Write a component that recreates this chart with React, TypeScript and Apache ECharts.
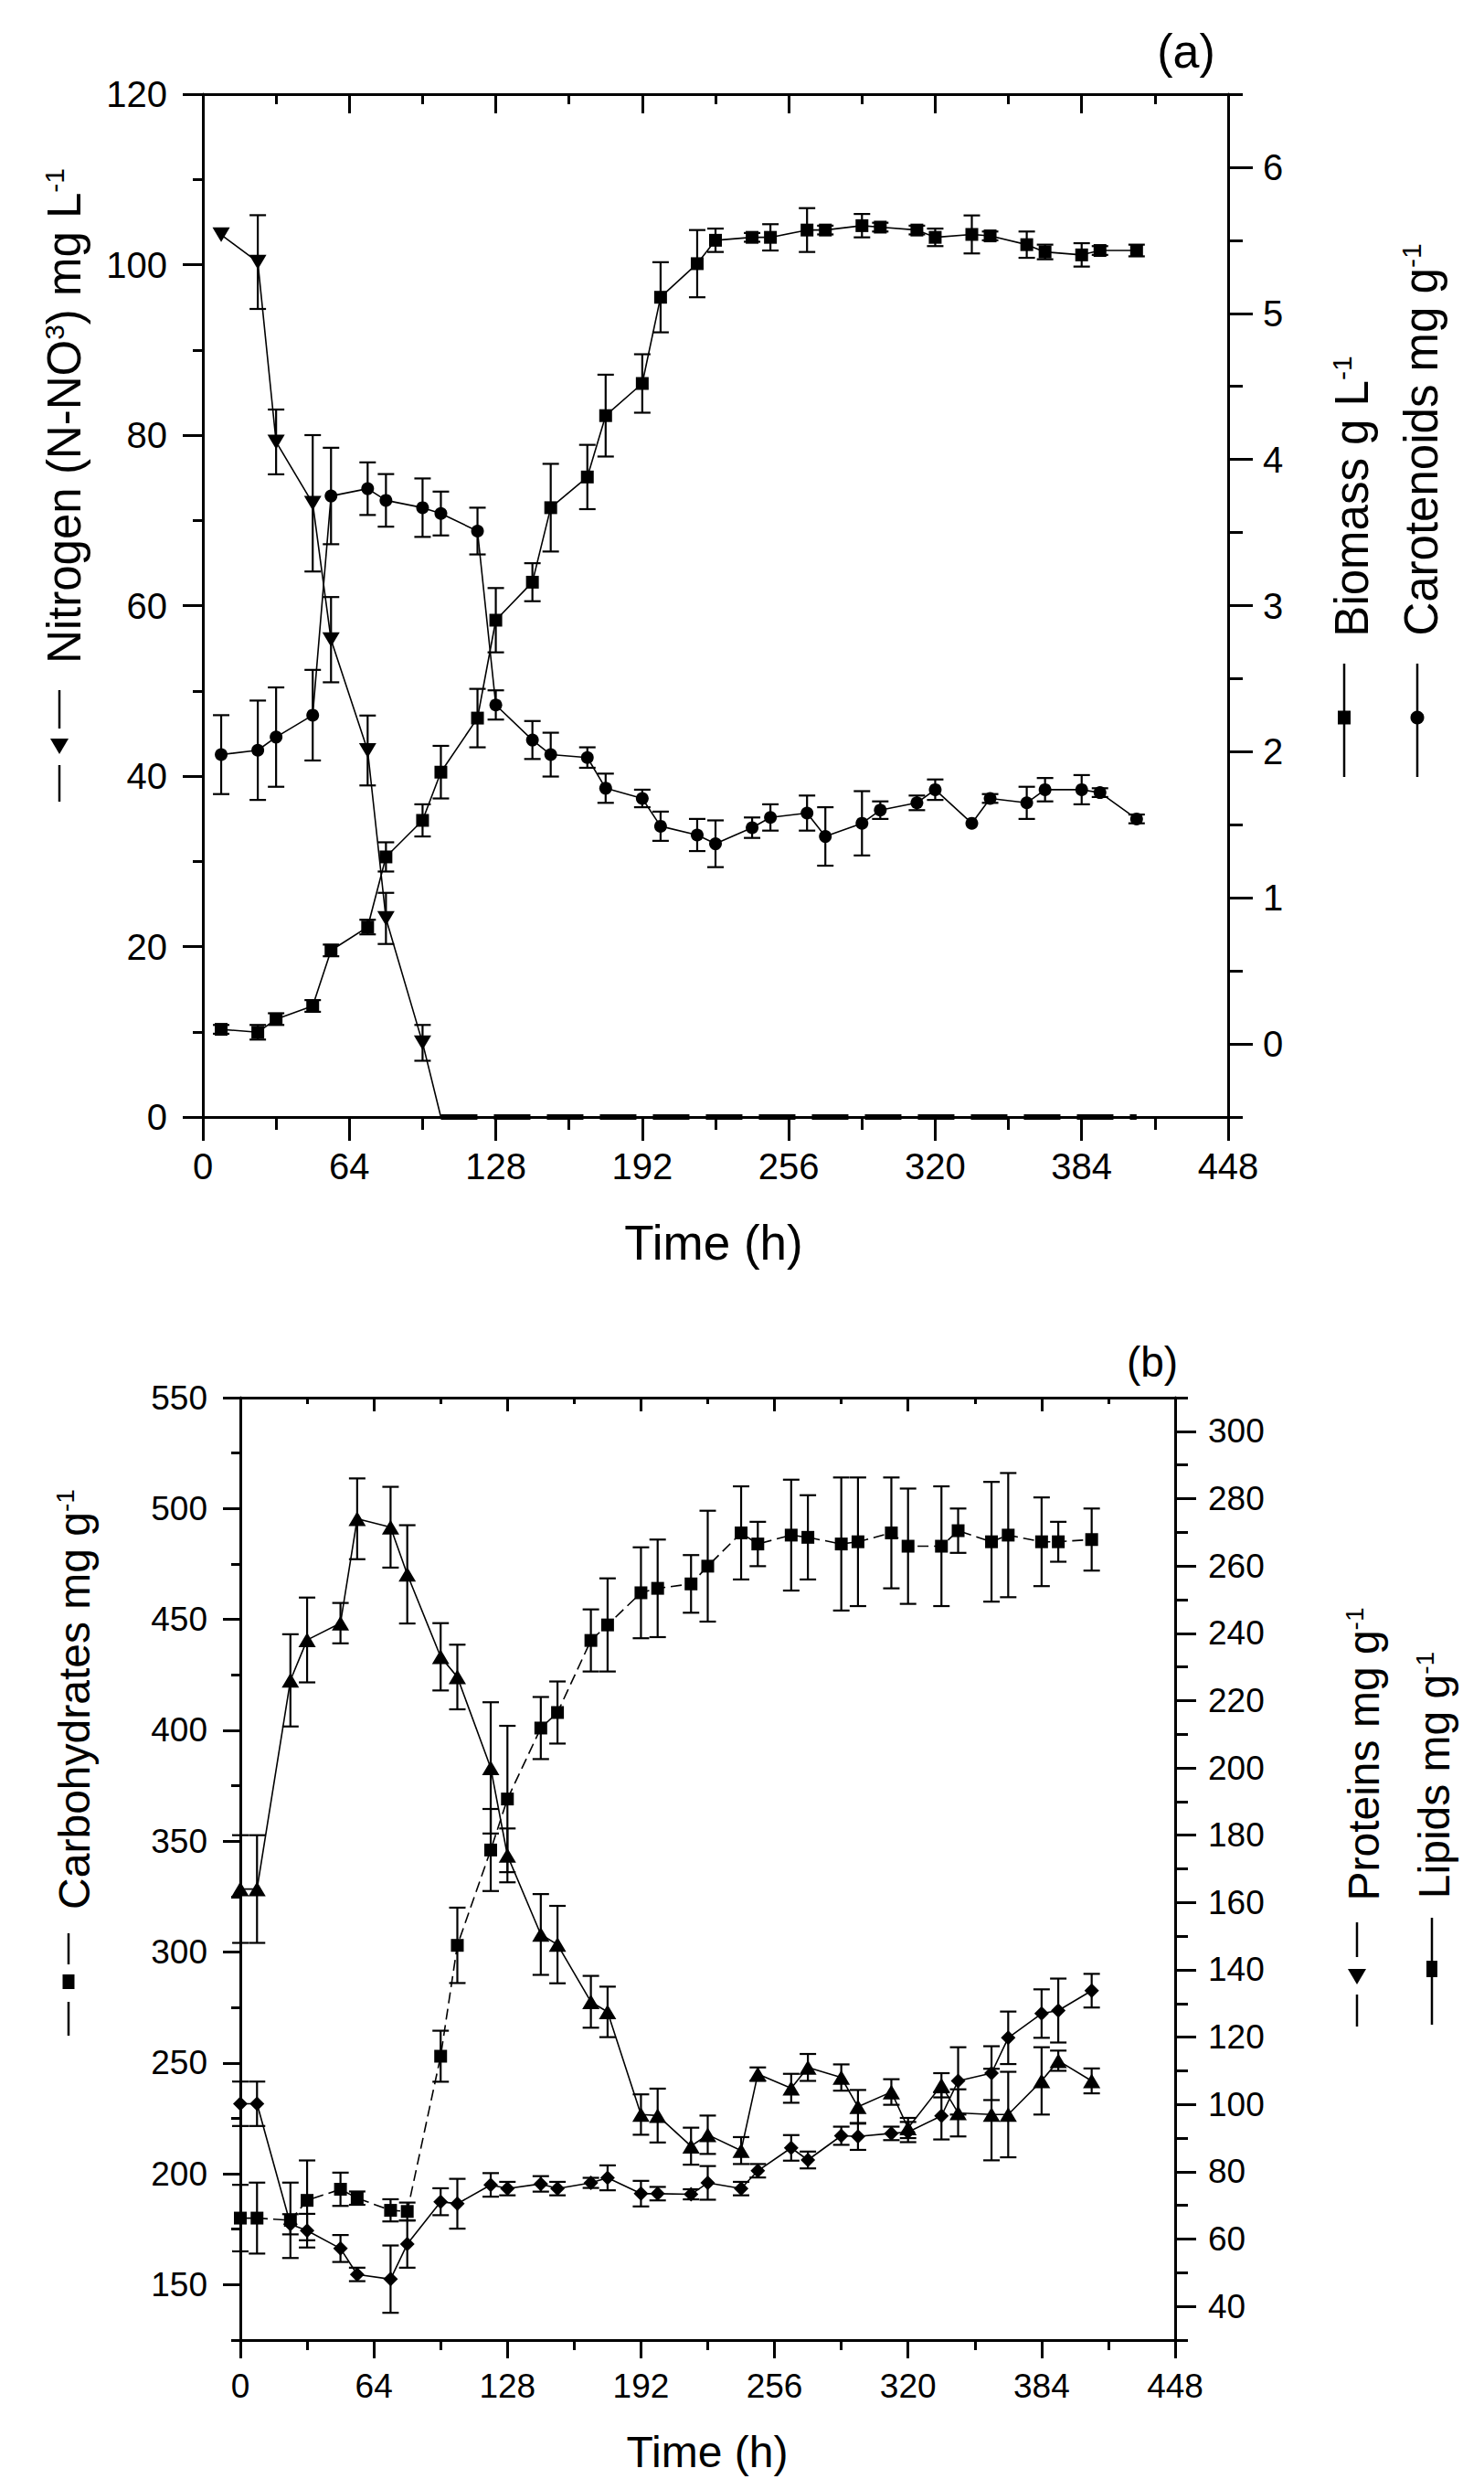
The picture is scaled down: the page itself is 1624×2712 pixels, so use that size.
import React, { useEffect, useRef } from 'react';
import * as echarts from 'echarts';

// ---------- Panel (a) data ----------
const timeA = [8, 24, 32, 48, 56, 72, 80, 96, 104, 120, 128, 144, 152, 168, 176, 192, 200, 216, 224, 240, 248, 264, 272, 288, 296, 312, 320, 336, 344, 360, 368, 384, 392, 408];
const nitrogen = [103.5, 100.3, 79.2, 72, 56, 43, 23.3, 8.7, 0, 0, 0, 0, 0, 0, 0, 0, 0, 0, 0, 0, 0, 0, 0, 0, 0, 0, 0, 0, 0, 0, 0, 0, 0, 0];
const nitrogenErr = [0, 5.5, 3.8, 8, 5, 4.1, 3, 2.1, 0, 0, 0, 0, 0, 0, 0, 0, 0, 0, 0, 0, 0, 0, 0, 0, 0, 0, 0, 0, 0, 0, 0, 0, 0, 0];
const biomass = [0.10, 0.08, 0.17, 0.26, 0.64, 0.80, 1.28, 1.53, 1.86, 2.23, 2.90, 3.16, 3.67, 3.88, 4.30, 4.52, 5.11, 5.34, 5.50, 5.52, 5.52, 5.57, 5.57, 5.60, 5.59, 5.57, 5.52, 5.54, 5.53, 5.47, 5.42, 5.40, 5.43, 5.43];
const biomassErr = [0.03, 0.05, 0.04, 0.04, 0.04, 0.05, 0.10, 0.11, 0.18, 0.20, 0.22, 0.13, 0.30, 0.22, 0.28, 0.20, 0.24, 0.23, 0.08, 0.03, 0.09, 0.15, 0.03, 0.08, 0.03, 0.03, 0.06, 0.13, 0.03, 0.09, 0.05, 0.08, 0.03, 0.04];
const carotenoids = [1.98, 2.01, 2.10, 2.25, 3.75, 3.80, 3.72, 3.67, 3.63, 3.51, 2.32, 2.08, 1.98, 1.96, 1.75, 1.68, 1.49, 1.43, 1.37, 1.48, 1.55, 1.58, 1.42, 1.51, 1.60, 1.65, 1.74, 1.51, 1.68, 1.65, 1.74, 1.74, 1.72, 1.54];
const carotenoidsErr = [0.27, 0.34, 0.34, 0.31, 0.33, 0.18, 0.18, 0.20, 0.15, 0.16, 0.10, 0.13, 0.15, 0.07, 0.10, 0.06, 0.10, 0.11, 0.16, 0.07, 0.09, 0.12, 0.20, 0.22, 0.06, 0.05, 0.07, 0, 0.03, 0.11, 0.08, 0.10, 0.03, 0.03];

// ---------- Panel (b) data ----------
const timeB = [0, 8, 24, 32, 48, 56, 72, 80, 96, 104, 120, 128, 144, 152, 168, 176, 192, 200, 216, 224, 240, 248, 264, 272, 288, 296, 312, 320, 336, 344, 360, 368, 384, 392, 408];
const carbohydrates = [180, 180, 179, 188, 193, 189, 183.5, 183, 253, 303, 346, 369, 401, 408, 440.5, 447.5, 462, 464, 466, 474, 489, 484, 488, 487, 484, 485, 489, 483, 483, 490, 485, 488, 485, 485, 486];
const carbohydratesErr = [15, 16, 17, 18, 7.5, 3, 5, 4, 11.5, 17, 18.5, 33, 14, 14, 14, 21, 20.5, 22, 13, 25, 21, 10, 25, 19, 30, 29, 25, 26, 27, 10, 27, 28, 20, 9, 14];
const proteins = [164, 164, 226, 238, 243, 274, 271.5, 257.5, 233, 227, 200, 174, 150.5, 147.5, 130.5, 127.5, 97, 96.7, 87.6, 91, 86.3, 109, 104.8, 111, 108, 99.3, 103.7, 93, 105.7, 97.5, 97, 97, 107, 113, 107];
const proteinsErr = [16, 16, 13.7, 12.6, 6, 12, 12, 14.6, 10, 9.6, 19.5, 8, 12, 11.5, 7.7, 7.5, 6, 8, 5.5, 5.7, 4, 2, 4.3, 4, 3.9, 5, 3.8, 3, 3.6, 7, 13.6, 12.7, 10, 3, 3.7];
const lipids = [100.2, 100.2, 64.4, 62.5, 57.2, 49.5, 48.1, 58.5, 71.1, 70.5, 76.1, 75, 76.4, 75, 76.7, 78.2, 73.5, 73.5, 73.3, 76.7, 75, 80.3, 87.1, 83.5, 90.7, 90.5, 91.4, 91.8, 96.6, 107, 109.3, 119.8, 127, 127.9, 133.8];
const lipidsErr = [6.6, 6.6, 3, 5, 4, 2, 10, 7, 4, 7.4, 3.5, 2, 2.3, 2, 1.5, 3.7, 3.8, 2, 1.5, 5, 2, 2, 3.8, 2.5, 2.7, 4, 2, 3, 7, 10, 8, 7.8, 7.2, 9.5, 5];

// ---------- Tick labels ----------
const rightTicksA = [0, 1, 2, 3, 4, 5, 6];
const leftTicksB = [150, 200, 250, 300, 350, 400, 450, 500, 550];
const rightTicksB = [40, 60, 80, 100, 120, 140, 160, 180, 200, 220, 240, 260, 280, 300];

const FONT = "'Liberation Sans', Arial, Helvetica, sans-serif";
const BLACK = '#000';
const NZERO = nitrogen.indexOf(0);

function pairs(xs: number[], ys: number[]) {
  return xs.map((x, i) => [x, ys[i]]);
}
function errData(xs: number[], ys: number[], es: number[]) {
  return xs.map((x, i) => [x, ys[i], es[i]]).filter((d) => d[2] > 0);
}

function renderErr(params: any, api: any) {
  const x = api.value(0);
  const y = api.value(1);
  const e = api.value(2);
  const a = api.coord([x, y + e]);
  const b = api.coord([x, y - e]);
  const hw = 9;
  const st = { stroke: BLACK, lineWidth: 2.2 };
  return {
    type: 'group',
    children: [
      { type: 'line', shape: { x1: a[0], y1: a[1], x2: b[0], y2: b[1] }, style: st },
      { type: 'line', shape: { x1: a[0] - hw, y1: a[1], x2: a[0] + hw, y2: a[1] }, style: st },
      { type: 'line', shape: { x1: b[0] - hw, y1: b[1], x2: b[0] + hw, y2: b[1] }, style: st },
    ],
  };
}

const axisLine = { show: true, onZero: false, lineStyle: { color: BLACK, width: 3 } };
const tickLine = { color: BLACK, width: 3 };

function xAxis(gi: number, pos: 'top' | 'bottom', tick: number, minor: number, fs: number, margin: number) {
  return {
    type: 'value', gridIndex: gi, position: pos, min: 0, max: 448, interval: 64,
    axisLine,
    axisTick: { show: true, inside: pos === 'top', length: tick, lineStyle: tickLine },
    minorTick: { show: true, splitNumber: 2, length: minor, lineStyle: tickLine },
    axisLabel: {
      show: pos === 'bottom', fontSize: fs, fontFamily: FONT, color: BLACK, margin,
      showMinLabel: true, showMaxLabel: true,
    },
    splitLine: { show: false }, minorSplitLine: { show: false },
  };
}

function yMajor(gi: number, pos: 'left' | 'right', min: number, max: number, values: number[], tick: number, fs: number, margin: number) {
  return {
    type: 'value', gridIndex: gi, position: pos, min, max,
    axisLine,
    axisTick: { show: true, length: tick, lineStyle: tickLine, customValues: values },
    axisLabel: { fontSize: fs, fontFamily: FONT, color: BLACK, margin, customValues: values, showMinLabel: true, showMaxLabel: true },
    splitLine: { show: false },
  };
}

function yMinor(gi: number, pos: 'left' | 'right', min: number, max: number, interval: number, tick: number) {
  return {
    type: 'value', gridIndex: gi, position: pos, min, max, interval,
    axisLine: { show: false, onZero: false },
    axisTick: { show: true, length: tick, lineStyle: tickLine },
    axisLabel: { show: false },
    splitLine: { show: false },
  };
}

function line(name: string, xi: number, yi: number, data: number[][], symbol: string, size: any, extra: any = {}) {
  return {
    type: 'line', name, xAxisIndex: xi, yAxisIndex: yi, data, symbol, symbolSize: size,
    showAllSymbol: true, clip: false, silent: true, z: 5,
    itemStyle: { color: BLACK },
    lineStyle: { color: BLACK, width: 1.6, ...(extra.lineStyle || {}) },
    ...extra.rest,
  };
}

function errSeries(xi: number, yi: number, data: number[][]) {
  return {
    type: 'custom', xAxisIndex: xi, yAxisIndex: yi, data, renderItem: renderErr,
    encode: { x: 0, y: 1 }, silent: true, z: 4,
  };
}

function rotText(x: number, y: number, rich: string, fs: number, sup: number) {
  return {
    type: 'text', x, y, rotation: Math.PI / 2,
    style: {
      text: rich, align: 'center', verticalAlign: 'middle', fontSize: fs, fontFamily: FONT, fill: BLACK,
      rich: {
        t: { fontSize: fs, fontFamily: FONT, fill: BLACK },
        s: { fontSize: sup, fontFamily: FONT, fill: BLACK, verticalAlign: 'top' },
      },
    },
  };
}

function plainText(x: number, y: number, text: string, fs: number) {
  return {
    type: 'text', x, y,
    style: { text, align: 'center', verticalAlign: 'middle', fontSize: fs, fontFamily: FONT, fill: BLACK },
  };
}

function vline(x: number, y1: number, y2: number) {
  return { type: 'line', shape: { x1: x, y1, x2: x, y2 }, style: { stroke: BLACK, lineWidth: 2.5 } };
}

function downTri(cx: number, cy: number) {
  return { type: 'polygon', shape: { points: [[cx - 10, cy - 8], [cx + 10, cy - 8], [cx, cy + 9]] }, style: { fill: BLACK } };
}

function box(cx: number, cy: number, w: number, h: number) {
  return { type: 'rect', shape: { x: cx - w / 2, y: cy - h / 2, width: w, height: h }, style: { fill: BLACK } };
}

export default function App() {
  const ref = useRef<HTMLDivElement>(null);

  useEffect(() => {
    if (!ref.current) return;
    const chart = echarts.init(ref.current, undefined, { renderer: 'svg' });

    const option: any = {
      animation: false,
      backgroundColor: '#fff',
      grid: [
        { left: 222, top: 103, width: 1122, height: 1119, containLabel: false, outerBoundsMode: 'none' },
        { left: 263, top: 1529, width: 1023, height: 1031, containLabel: false, outerBoundsMode: 'none' },
      ],
      xAxis: [
        xAxis(0, 'bottom', 26, 14, 40, 34),
        xAxis(0, 'top', 21, 11, 40, 34),
        xAxis(1, 'bottom', 20, 11, 37, 32),
        xAxis(1, 'top', 15, 7, 37, 32),
      ],
      yAxis: [
        {
          type: 'value', gridIndex: 0, position: 'left', min: 0, max: 120, interval: 20,
          axisLine,
          axisTick: { show: true, length: 22, lineStyle: tickLine },
          minorTick: { show: true, splitNumber: 2, length: 11, lineStyle: tickLine },
          axisLabel: { fontSize: 40, fontFamily: FONT, color: BLACK, margin: 39, showMinLabel: true, showMaxLabel: true },
          splitLine: { show: false }, minorSplitLine: { show: false },
        },
        yMajor(0, 'right', -0.5, 6.5, rightTicksA, 27, 40, 38),
        yMinor(0, 'right', -0.5, 6.5, 0.5, 16),
        yMajor(1, 'left', 125, 550, leftTicksB, 19, 37, 36),
        yMinor(1, 'left', 125, 550, 25, 10),
        yMajor(1, 'right', 30, 310, rightTicksB, 23, 37, 36),
        yMinor(1, 'right', 30, 310, 10, 14),
      ],
      series: [
        // Panel (a)
        errSeries(0, 0, errData(timeA, nitrogen, nitrogenErr)),
        errSeries(0, 1, errData(timeA, biomass, biomassErr)),
        errSeries(0, 1, errData(timeA, carotenoids, carotenoidsErr)),
        line('Nitrogen', 0, 0, pairs(timeA.slice(0, NZERO + 1), nitrogen.slice(0, NZERO + 1)), 'triangle',
          (v: any, p: any) => (p.dataIndex < NZERO ? [19, 16] : 0),
          { rest: { symbolRotate: 180 } }),
        line('Nitrogen (depleted)', 0, 0, pairs(timeA.slice(NZERO), nitrogen.slice(NZERO)), 'none', 0,
          { lineStyle: { width: 6, type: [40, 18] } }),
        line('Biomass', 0, 1, pairs(timeA, biomass), 'rect', 14),
        line('Carotenoids', 0, 1, pairs(timeA, carotenoids), 'circle', 14),
        // Panel (b)
        errSeries(2, 3, errData(timeB, carbohydrates, carbohydratesErr)),
        errSeries(2, 5, errData(timeB, proteins, proteinsErr)),
        errSeries(2, 5, errData(timeB, lipids, lipidsErr)),
        line('Carbohydrates', 2, 3, pairs(timeB, carbohydrates), 'rect', 14, { lineStyle: { type: [12, 6] } }),
        line('Proteins', 2, 5, pairs(timeB, proteins), 'triangle', [19, 16]),
        line('Lipids', 2, 5, pairs(timeB, lipids), 'diamond', 16),
      ],
      graphic: [
        plainText(1298, 56, '(a)', 52),
        plainText(1261, 1490, '(b)', 46),
        plainText(781, 1359, 'Time (h)', 53),
        plainText(774, 2682, 'Time (h)', 48),
        rotText(70, 455, '{t|Nitrogen (N-NO}{s|3}{t|) mg L}{s|-1}', 51, 30),
        rotText(1479, 543, '{t|Biomass g L}{s|-1}', 51, 30),
        rotText(1555, 481, '{t|Carotenoids mg g}{s|-1}', 51, 30),
        rotText(81, 1859, '{t|Carbohydrates mg g}{s|-1}', 48, 28),
        rotText(1492, 1919, '{t|Proteins mg g}{s|-1}', 48, 28),
        rotText(1569, 1942, '{t|Lipids mg g}{s|-1}', 48, 28),
        // legend glyphs (a)
        vline(65, 755, 797), vline(65, 837, 877), downTri(65, 816),
        vline(1471, 726, 850), box(1471, 785, 14, 15),
        vline(1551, 726, 850), { type: 'circle', shape: { cx: 1551, cy: 785, r: 7.5 }, style: { fill: BLACK } },
        // legend glyphs (b)
        vline(75, 2115, 2149), vline(75, 2190, 2227), box(75, 2168, 13, 16),
        vline(1485, 2103, 2141), vline(1485, 2182, 2217), downTri(1485, 2162),
        vline(1567, 2098, 2215), box(1567, 2154, 12, 18),
      ],
    };

    chart.setOption(option);
    return () => chart.dispose();
  }, []);

  return (
    <div
      ref={ref}
      style={{ position: 'absolute', left: 0, top: 0, width: 1624, height: 2712, background: '#fff' }}
    />
  );
}
